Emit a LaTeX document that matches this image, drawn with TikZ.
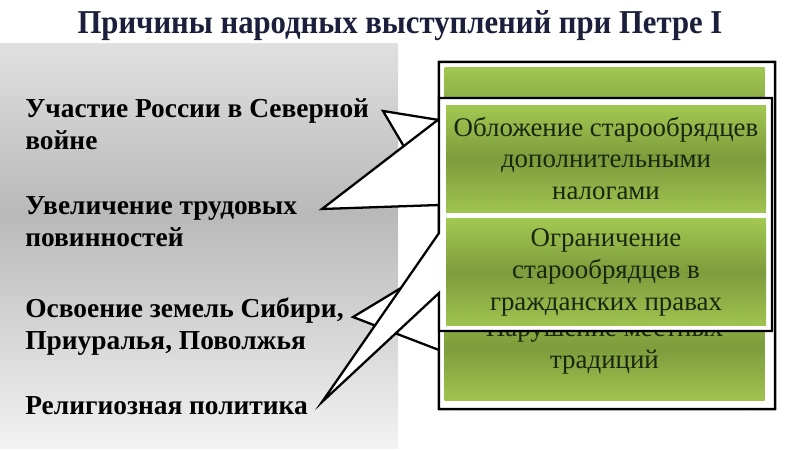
\documentclass[tikz,border=0pt]{standalone}
\usepackage{fontspec}
\setmainfont{Liberation Serif}
\newfontfamily\headfont[FakeStretch=0.92]{Liberation Serif}
\usetikzlibrary{positioning}
\newcommand{\px}{0.02cm}
\newcommand{\reasonfont}{\fontsize{15.6}{18.1}\selectfont\bfseries}
\newcommand{\boxfont}{\fontsize{15.3}{18.1}\selectfont}
\definecolor{headblue}{HTML}{1B1F3B}
\definecolor{greentop}{HTML}{A2C852}
\definecolor{greenmid}{HTML}{7D9C3C}
\definecolor{greenbottom}{HTML}{9FC350}
\definecolor{greentext}{HTML}{1A260F}
\definecolor{paneltop}{HTML}{E0E0E0}
\definecolor{panelmid}{HTML}{B9B9B9}
\definecolor{panellow}{HTML}{F2F2F2}
\pgfdeclareverticalshading{panelgray}{100bp}{color(0bp)=(panellow); color(25bp)=(panellow); color(54bp)=(panelmid); color(75bp)=(paneltop); color(100bp)=(paneltop)}
\tikzset{
	reason/.style={anchor=north west, inner sep=0pt, align=left, font=\reasonfont},
	callout/.style={draw=black, fill=white, line width=1.3pt, line join=miter},
	greenbox/.style={minimum width=320*\px, minimum height=107*\px, inner sep=0pt, align=center, font=\boxfont, text=greentext, top color=greentop, bottom color=greenbottom, middle color=greenmid},
}

\begin{document}
\begin{tikzpicture}[x=\px, y=-\px]
	\useasboundingbox (0,0) rectangle (800,450);
	\shade[shading=panelgray] (0,43) rectangle (398,448);
	\node[font=\headfont\bfseries\fontsize{19}{22}\selectfont, text=headblue, anchor=base] (head) at (400,33) {Причины народных выступлений при Петре I};
	\node[reason] (war) at (25,98) {Участие России в Северной\\войне};
	\node[reason] (labour) at (25,196) {Увеличение трудовых\\повинностей};
	\node[reason] (siberia) at (25,298) {Освоение земель Сибири,\\Приуралья, Поволжья};
	\node[reason] (faith) at (25,396) {Религиозная политика};
	\coordinate (tipwar) at (383,111);
	\coordinate (tiplabour) at (322,209);
	\coordinate (tipsiberia) at (353,317);
	\coordinate (tipfaith) at (322,402);
	\draw[callout] (439,62) -- (775,62) -- (775,409) -- (439,409) -- (439,206) -- (tipwar) -- (439,120) -- cycle;
	\draw[callout] (439,62) -- (775,62) -- (775,409) -- (439,409) -- (439,350) -- (tipsiberia) -- (439,265) -- cycle;
	\draw[callout] (439,62) -- (775,62) -- (775,409) -- (439,409) -- (439,205) -- (tiplabour) -- (439,119) -- cycle;
	\node[greenbox] (backtop) at (604.5,120.5) {};
	\node[greenbox] (customs) at (604.5,346.5) {Нарушение местных\\традиций};
	\draw[callout] (439,98) -- (772,98) -- (772,331) -- (439,331) -- (439,293) -- (tipfaith) -- (439,233) -- cycle;
	\node[greenbox] (taxes) at (606,158.5) {Обложение старообрядцев\\дополнительными\\налогами};
	\node[greenbox, below=6*\px of taxes] (rights) {Ограничение\\старообрядцев в\\гражданских правах};
\end{tikzpicture}
\end{document}
